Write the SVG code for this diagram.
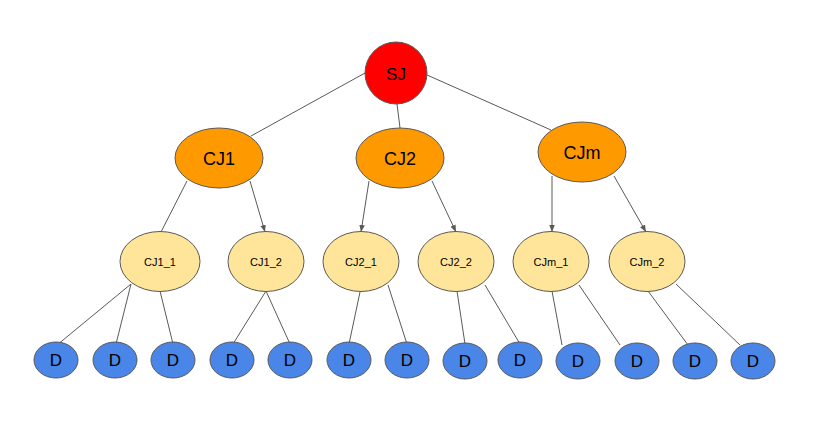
<svg xmlns="http://www.w3.org/2000/svg" width="821" height="428" viewBox="0 0 821 428">
<style>
.e line{stroke:#595959;stroke-width:1;fill:none}
.n ellipse,.n circle{stroke:#595959;stroke-width:1}
text{font-family:"Liberation Sans",Arial,sans-serif;text-anchor:middle;dominant-baseline:central;fill:#000}
.r{fill:#ff0000}.o{fill:#ff9900}.y{fill:#ffe599}.b{fill:#4a86e8}
.t1{font-size:17px}.t2{font-size:11px}.t3{font-size:18px}
</style>
<defs><marker id="a" viewBox="0 0 10 10" refX="10" refY="5" markerWidth="7" markerHeight="7" orient="auto"><path d="M0,1 L10,5 L0,9 z" fill="#595959"/></marker></defs>
<rect width="821" height="428" fill="#fff"/>
<g class="e" id="connectors">
<line x1="365" y1="73" x2="251" y2="136"/>
<line x1="397" y1="104" x2="400" y2="128"/>
<line x1="427" y1="75" x2="551" y2="130"/>
<line x1="187" y1="181" x2="161" y2="232"/>
<line x1="250" y1="181" x2="265" y2="232" marker-end="url(#a)"/>
<line x1="369" y1="181" x2="361" y2="232" marker-end="url(#a)"/>
<line x1="432" y1="181" x2="456" y2="232" marker-end="url(#a)"/>
<line x1="552" y1="176" x2="552" y2="232" marker-end="url(#a)"/>
<line x1="614" y1="176" x2="646" y2="232" marker-end="url(#a)"/>
<line x1="131" y1="284" x2="57" y2="345"/>
<line x1="131" y1="284" x2="116" y2="344"/>
<line x1="160" y1="291" x2="173" y2="344"/>
<line x1="266" y1="291" x2="233" y2="344"/>
<line x1="266" y1="291" x2="290" y2="344"/>
<line x1="360" y1="292" x2="349" y2="344"/>
<line x1="388" y1="285" x2="407" y2="344"/>
<line x1="457" y1="291" x2="465" y2="344"/>
<line x1="485" y1="285" x2="520" y2="344"/>
<line x1="552" y1="291" x2="562" y2="345"/>
<line x1="579" y1="285" x2="620" y2="345"/>
<line x1="648" y1="291" x2="688" y2="345"/>
<line x1="676" y1="284" x2="740" y2="345"/>
</g>
<g class="n" id="SJ"><circle class="r" cx="396" cy="73" r="31"/><text class="t1" x="396" y="74">SJ</text></g>
<g class="n" id="CJ1"><ellipse class="o" cx="219" cy="158" rx="44" ry="30"/><text class="t3" x="219" y="159">CJ1</text></g>
<g class="n" id="CJ2"><ellipse class="o" cx="400" cy="158" rx="44" ry="30"/><text class="t3" x="400" y="159">CJ2</text></g>
<g class="n" id="CJm"><ellipse class="o" cx="582" cy="152" rx="44" ry="30"/><text class="t3" x="582" y="153">CJm</text></g>
<g class="n" id="CJ1_1"><ellipse class="y" cx="160" cy="261.5" rx="40" ry="30"/><text class="t2" x="160" y="262">CJ1_1</text></g>
<g class="n" id="CJ1_2"><ellipse class="y" cx="266" cy="261.5" rx="38" ry="30"/><text class="t2" x="266" y="262">CJ1_2</text></g>
<g class="n" id="CJ2_1"><ellipse class="y" cx="361" cy="261.5" rx="38" ry="30"/><text class="t2" x="361" y="262">CJ2_1</text></g>
<g class="n" id="CJ2_2"><ellipse class="y" cx="456" cy="261.5" rx="38" ry="30"/><text class="t2" x="456" y="262">CJ2_2</text></g>
<g class="n" id="CJm_1"><ellipse class="y" cx="551" cy="261.5" rx="38" ry="30"/><text class="t2" x="551" y="262">CJm_1</text></g>
<g class="n" id="CJm_2"><ellipse class="y" cx="647" cy="261.5" rx="38" ry="30"/><text class="t2" x="647" y="262">CJm_2</text></g>
<g class="n" id="D1"><ellipse class="b" cx="56" cy="360" rx="22" ry="18"/><text class="t1" x="56" y="360">D</text></g>
<g class="n" id="D2"><ellipse class="b" cx="115" cy="360" rx="22" ry="18"/><text class="t1" x="115" y="360">D</text></g>
<g class="n" id="D3"><ellipse class="b" cx="173" cy="360" rx="22" ry="18"/><text class="t1" x="173" y="360">D</text></g>
<g class="n" id="D4"><ellipse class="b" cx="232" cy="360" rx="22" ry="18"/><text class="t1" x="232" y="360">D</text></g>
<g class="n" id="D5"><ellipse class="b" cx="290" cy="360" rx="22" ry="18"/><text class="t1" x="290" y="360">D</text></g>
<g class="n" id="D6"><ellipse class="b" cx="349" cy="360" rx="22" ry="18"/><text class="t1" x="349" y="360">D</text></g>
<g class="n" id="D7"><ellipse class="b" cx="407" cy="360" rx="22" ry="18"/><text class="t1" x="407" y="360">D</text></g>
<g class="n" id="D8"><ellipse class="b" cx="465" cy="361" rx="22" ry="18"/><text class="t1" x="465" y="361">D</text></g>
<g class="n" id="D9"><ellipse class="b" cx="520" cy="360" rx="22" ry="18"/><text class="t1" x="520" y="360">D</text></g>
<g class="n" id="D10"><ellipse class="b" cx="578" cy="361" rx="22" ry="18"/><text class="t1" x="578" y="361">D</text></g>
<g class="n" id="D11"><ellipse class="b" cx="637" cy="361" rx="22" ry="18"/><text class="t1" x="637" y="361">D</text></g>
<g class="n" id="D12"><ellipse class="b" cx="695" cy="361" rx="22" ry="18"/><text class="t1" x="695" y="361">D</text></g>
<g class="n" id="D13"><ellipse class="b" cx="753" cy="361" rx="22" ry="18"/><text class="t1" x="753" y="361">D</text></g>
</svg>
